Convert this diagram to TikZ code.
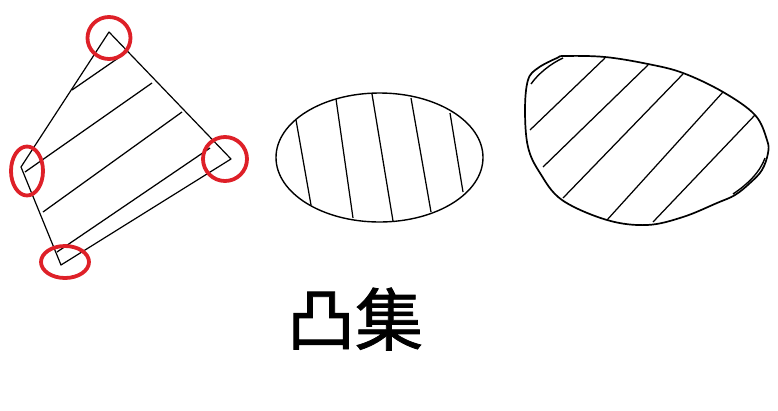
\documentclass[tikz,border=0pt]{standalone}
\usepackage{fontspec}
\newfontfamily\cjk[FakeBold=1.2]{Noto Sans CJK SC}
\usetikzlibrary{calc}
\definecolor{markred}{RGB}{222,32,40}
\tikzset{
	every node/.style={
		font=\cjk\fontsize{68}{68}\selectfont
	},
	outline/.style={
		draw=black,
		line width=1.4pt,
		line join=round
	},
	hatch/.style={
		draw=black,
		line width=1.25pt
	},
	marker/.style={
		draw=markred,
		line width=3.8pt
	}
}
\begin{document}
\begin{tikzpicture}[x=1pt,y=-1pt]
	\useasboundingbox (0,0) rectangle (778,410);
	
	\coordinate (T) at (109,32);
	\coordinate (R) at (231,159);
	\coordinate (B) at (61,265);
	\coordinate (L) at (21,167);
	\draw[outline, line width=1.2pt] (T) -- (R) -- (B) -- (L) -- cycle;
	
	\foreach \xa/\ya/\xb/\yb in {72/90/127/52, 25/172/152/83, 43/212/182/112, 57/252/210/148}
	\draw[hatch] (\xa,\ya) -- (\xb,\yb);
	
	\draw[marker] (109,38) ellipse [x radius=21.5pt, y radius=21pt];
	\draw[marker] (27,171) ellipse [x radius=16pt, y radius=24.5pt];
	\draw[marker] (225,159) ellipse [x radius=22pt, y radius=22pt];
	\draw[marker] (65,262) ellipse [x radius=24pt, y radius=16pt];
	
	\draw[outline] (379.5,157.5) ellipse [x radius=103.5pt, y radius=64.5pt];
	\foreach \xa/\ya/\xb/\yb in {296/120/311/205, 336/99/353/218, 372/94/393/221, 411/98/431/212, 450/113/463/192}
	\draw[hatch] (\xa,\ya) -- (\xb,\yb);
	
	\draw[outline, line width=1.7pt] plot[smooth cycle, tension=0.6] coordinates {
		(565,56) (605,57) (648,64) (683,73) (723,92) (755,115) (767,140)
		(768,153) (762,170) (750,183) (735,195) (717,203) (683,217)
		(647,225) (607,220) (562,200) (540,173) (528,147) (525,110)
		(528,80) (538,68) (557,58)};
	\draw[outline] (531,84) .. controls (538,74) and (550,64) .. (563,58);
	\draw[outline] (733,194) .. controls (748,184) and (760,172) .. (765,158);
	\foreach \xa/\ya/\xb/\yb in {530/130/605/58, 543/167/648/65, 563/198/683/74, 607/220/723/92, 653/222/755/115}
	\draw[hatch] (\xa,\ya) -- (\xb,\yb);
	
	\node[anchor=base, inner sep=0pt] (title) at (355,345) {凸集};
\end{tikzpicture}
\end{document}
